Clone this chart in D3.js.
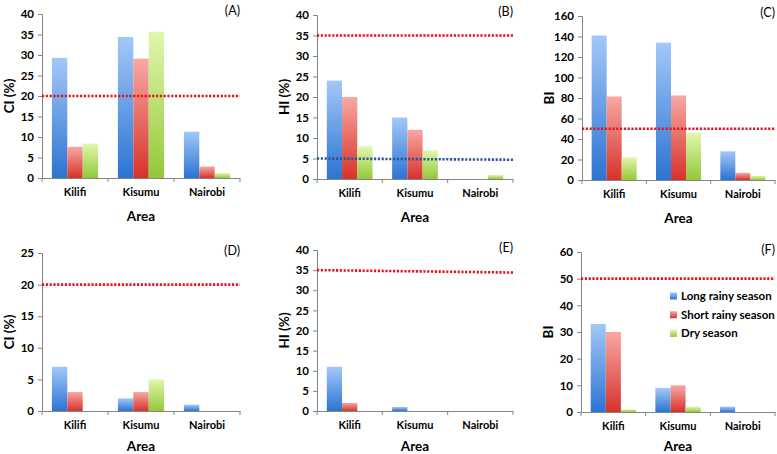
<!DOCTYPE html>
<html><head><meta charset="utf-8">
<script src="https://cdn.jsdelivr.net/npm/d3@7"></script>
<style>
html,body{margin:0;padding:0;background:#fff;}
svg text{font-family:Lato,"Open Sans",sans-serif;}
</style></head>
<body><svg id="c" width="777" height="454"></svg>
<script>
const areas = ["Kilifi","Kisumu","Nairobi"];
const seasons = ["Long rainy season","Short rainy season","Dry season"];
// values per panel: [season][area]
const ciA = [[29.3,34.4,11.3],[7.6,29.1,2.8],[8.4,35.7,1.2]];
const hiB = [[24,15,0],[20,12,0],[8,7,1]];
const biC = [[141,134,28],[81.5,82.5,7],[22,46,4]];
const ciD = [[7,2,1],[3,3,0],[0,5,0]];
const hiE = [[11,1,0],[2,0,0],[0,0,0]];
const biF = [[33,9,2],[30,10,0],[1,2,0]];
const yMaxes = [40,40,160,25,40,60];
const yTicks = [
  [0,5,10,15,20,25,30,35,40],
  [0,5,10,15,20,25,30,35,40],
  [0,20,40,60,80,100,120,140,160],
  [0,5,10,15,20,25],
  [0,5,10,15,20,25,30,35,40],
  [0,10,20,30,40,50,60]];
const yTitles = ["CI (%)","HI (%)","BI","CI (%)","HI (%)","BI"];
const panelLabels = ["(A)","(B)","(C)","(D)","(E)","(F)"];
// thresholds: [value at left, value at right, color]
const thresholds = [
  [[20,20,"red"]],
  [[35,35,"red"],[5,4.7,"blue"]],
  [[50,50,"red"]],
  [[20,20,"red"]],
  [[35,34.4,"red"]],
  [[50,50,"red"]]];
const panelData = [ciA,hiB,biC,ciD,hiE,biF];

const frames = [
  {x0:42,x1:240,yt:14,y0:178,ty:43},
  {x0:317,x1:513,yt:15,y0:179,ty:43},
  {x0:582,x1:775,yt:16,y0:180,ty:43},
  {x0:42,x1:240,yt:253,y0:411,ty:40},
  {x0:317,x1:513,yt:250,y0:411,ty:40},
  {x0:581,x1:775,yt:252,y0:412,ty:39}];

const svg = d3.select("#c");
const defs = svg.append("defs");
const grads = [["#a3c8f8","#2b74d2"],["#f8a8a3","#d7322b"],["#e2f7ae","#93c838"]];
grads.forEach((g,i)=>{
  const lg = defs.append("linearGradient").attr("id","g"+i).attr("x1",0).attr("x2",0).attr("y1",0).attr("y2",1);
  lg.append("stop").attr("offset","0%").attr("stop-color",g[0]);
  lg.append("stop").attr("offset","100%").attr("stop-color",g[1]);
});
const lineColors = {red:"#e3141a",blue:"#2e5597"};

panelData.forEach((data,p)=>{
  const f = frames[p];
  const g = svg.append("g");
  const x = d3.scaleBand().domain(areas).range([f.x0,f.x1]).padding(0);
  const xs = d3.scaleBand().domain(seasons).range([x.bandwidth()*0.15, x.bandwidth()*0.85]).padding(0);
  const y = d3.scaleLinear().domain([0,yMaxes[p]]).range([f.y0,f.yt]);

  // bars
  seasons.forEach((s,si)=>{
    g.selectAll(null).data(areas).enter().append("rect")
      .attr("x",a=>x(a)+xs(s))
      .attr("width",xs.bandwidth())
      .attr("y",(a,ai)=>y(data[si][ai]))
      .attr("height",(a,ai)=>f.y0-y(data[si][ai]))
      .attr("fill","url(#g"+si+")");
  });

  // y axis
  const ya = g.append("g").attr("transform",`translate(${f.x0},0)`)
    .call(d3.axisLeft(y).tickValues(yTicks[p]).tickSize(4).tickPadding(4).tickFormat(d3.format("d")));
  ya.select(".domain").attr("stroke","#858585");
  ya.selectAll(".tick line").attr("stroke","#858585");
  ya.selectAll("text").attr("font-size",11.5).attr("font-weight","bold").attr("fill","#000");

  // x axis
  const xa = g.append("g").attr("transform",`translate(0,${f.y0})`)
    .call(d3.axisBottom(x).tickSize(0).tickPadding(10));
  xa.select(".domain").attr("stroke","#858585");
  xa.selectAll("text").attr("font-size",11).attr("font-weight","bold").attr("fill","#000");
  // x tick marks at band boundaries
  const bounds = areas.map(a=>x(a)).concat([f.x1]);
  g.selectAll(null).data(bounds).enter().append("line")
    .attr("x1",d=>d).attr("x2",d=>d).attr("y1",f.y0).attr("y2",f.y0+4)
    .attr("stroke","#858585");

  // thresholds
  thresholds[p].forEach(t=>{
    g.append("line").attr("x1",f.x0).attr("x2",f.x1)
      .attr("y1",y(t[0])).attr("y2",y(t[1]))
      .attr("stroke",lineColors[t[2]]).attr("stroke-width",2.6)
      .attr("stroke-dasharray","2.2 1.6");
  });

  // titles
  g.append("text").attr("x",(f.x0+f.x1)/2).attr("y",f.y0+f.ty)
    .attr("text-anchor","middle").attr("font-size",13.5).attr("font-weight","bold").text("Area");
  const yc = (f.yt+f.y0)/2;
  const tx = f.x0 - 28;
  g.append("text").attr("transform",`translate(${tx},${yc}) rotate(-90)`)
    .attr("text-anchor","middle").attr("font-size",13.5).attr("font-weight","bold").text(yTitles[p]);
  g.append("text").attr("x",f.x1).attr("y",f.yt+ (p<3?1:2))
    .attr("text-anchor","end").attr("font-size",12.5).text(panelLabels[p]);
});

// legend in panel F
const lg = svg.append("g").attr("transform","translate(670,296)");
seasons.forEach((s,i)=>{
  lg.append("rect").attr("x",0).attr("y",i*18.7-3.5).attr("width",7).attr("height",7).attr("fill","url(#g"+i+")");
  lg.append("text").attr("x",11).attr("y",i*18.7+4).attr("font-size",11.5).attr("font-weight","bold").text(s);
});
</script></body></html>
